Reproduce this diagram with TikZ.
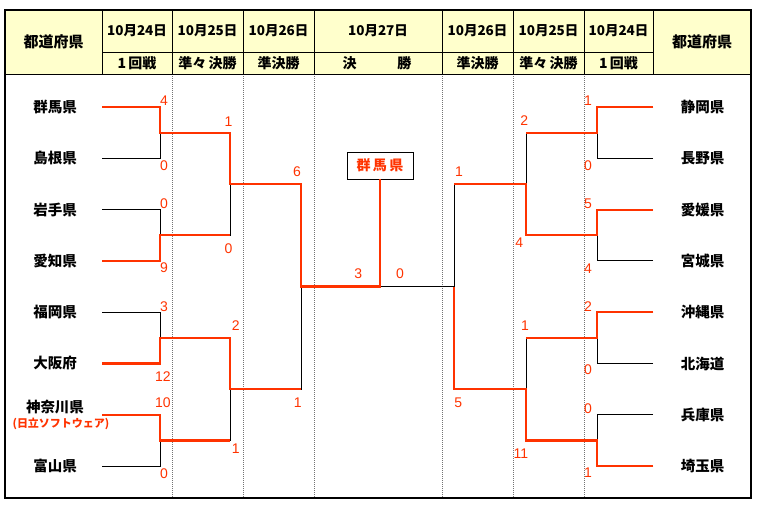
\documentclass[tikz,border=0pt]{standalone}
\usepackage{fontspec}
\setmainfont{Noto Sans CJK JP}
\newfontfamily\num{Liberation Sans}
\definecolor{wred}{RGB}{255,51,0}
\definecolor{hdrfill}{RGB}{255,255,204}
\begin{document}
\begin{tikzpicture}[x=1pt,y=-1pt,
  team/.style={font=\fontsize{14.5}{16}\selectfont\bfseries, inner sep=0pt},
  hdr/.style={font=\fontsize{14}{16}\selectfont\bfseries, inner sep=0pt},
  datehdr/.style={font=\fontsize{13.5}{16}\selectfont\bfseries, inner sep=0pt},
  score/.style={font=\num\fontsize{14}{15}\selectfont, text=wred, inner sep=0pt},
  win/.style={draw=wred, line width=2.2pt, line join=miter},
  lose/.style={draw=black, line width=0.9pt},
  sep/.style={draw=black!55, line width=0.9pt, dash pattern=on 1pt off 1pt}]
\useasboundingbox (0,0) rectangle (758,506);
% header background
\fill[hdrfill] (5,10) rectangle (751,74);
% dotted column separators
\foreach \x/\n in {172/s1,243/s2,314/s3,442/s4,513/s5,584/s6}{
  \coordinate (\n t) at (\x,74);
  \coordinate (\n b) at (\x,498);
  \draw[sep] (\n t) -- (\n b);
}
% header grid
\foreach \x/\n in {102/h1,172/h2,243/h3,314/h4,442/h5,513/h6,584/h7,653/h8}{
  \coordinate (\n t) at (\x,10);
  \coordinate (\n b) at (\x,74);
  \draw[black, line width=0.9pt] (\n t) -- (\n b);
}
\coordinate (hm1) at (102,52); \coordinate (hm2) at (653,52);
\coordinate (hb1) at (5,74); \coordinate (hb2) at (751,74);
\draw[black, line width=0.9pt] (hm1) -- (hm2);
\draw[black, line width=0.9pt] (hb1) -- (hb2);
\draw[black, line width=1.3pt] (5,10) rectangle (751,498);
% header texts
\node[hdr, font=\fontsize{15}{16}\selectfont\bfseries] (hl) at (53.5,42) {都道府県};
\node[hdr, font=\fontsize{15}{16}\selectfont\bfseries] (hr) at (702,42) {都道府県};
\node[datehdr] (d1) at (137,31) {10月24日};
\node[datehdr] (d2) at (207.5,31) {10月25日};
\node[datehdr] (d3) at (278.5,31) {10月26日};
\node[datehdr] (d4) at (378,31) {10月27日};
\node[datehdr] (d5) at (477.5,31) {10月26日};
\node[datehdr] (d6) at (548.5,31) {10月25日};
\node[datehdr] (d7) at (618.5,31) {10月24日};
\node[hdr] (r1h) at (137,63) {1\,回戦};
\node[hdr] (r2h) at (207.5,63) {準々\,決勝};
\node[hdr] (r3h) at (278.5,63) {準決勝};
\node[hdr] (r4h) at (377,63) {決\hspace{41pt}勝};
\node[hdr] (r5h) at (477.5,63) {準決勝};
\node[hdr] (r6h) at (548.5,63) {準々\,決勝};
\node[hdr] (r7h) at (618.5,63) {1\,回戦};
% team names
\node[team] (tl1) at (55,107) {群馬県};
\node[team] (tl2) at (55,158.3) {島根県};
\node[team] (tl3) at (55,209.6) {岩手県};
\node[team] (tl4) at (55,260.9) {愛知県};
\node[team] (tl5) at (55,312.2) {福岡県};
\node[team] (tl6) at (55,363.5) {大阪府};
\node[team] (tl7) at (55,406.7) {神奈川県};
\node[inner sep=0pt, text=wred, font=\fontsize{11}{12}\selectfont\bfseries] (tl7s) at (61,424) {(日立ソフトウェア)};
\node[team] (tl8) at (55,466.1) {富山県};
\node[team] (tr1) at (702.5,107) {静岡県};
\node[team] (tr2) at (702.5,158.3) {長野県};
\node[team] (tr3) at (702.5,209.6) {愛媛県};
\node[team] (tr4) at (702.5,260.9) {宮城県};
\node[team] (tr5) at (702.5,312.2) {沖縄県};
\node[team] (tr6) at (702.5,363.5) {北海道};
\node[team] (tr7) at (702.5,414.8) {兵庫県};
\node[team] (tr8) at (702.5,466.1) {埼玉県};
% champion box
\node[draw=black, line width=0.9pt, fill=white, minimum width=66pt, minimum height=27pt,
  inner sep=0pt, text=wred, font=\fontsize{14}{16}\selectfont\bfseries] (champ) at (380,165.5) {群\,馬\,県};
% bracket coordinates
\foreach \i/\y in {1/107,2/158.3,3/209.6,4/260.9,5/312.2,6/363.5,7/414.8,8/466.1}{
  \coordinate (l\i) at (102,\y);
  \coordinate (r\i) at (653,\y);
}
\foreach \i/\y in {1/132.65,2/235.25,3/337.85,4/440.45}{
  \coordinate (a\i) at (160,\y);
  \coordinate (A\i) at (597,\y);
}
\coordinate (b1) at (230,183.95); \coordinate (b2) at (230,389.15);
\coordinate (B1) at (526,183.95); \coordinate (B2) at (526,389.15);
\coordinate (c1) at (301,286.55); \coordinate (c2) at (454,286.55);
% black full bracket
\draw[lose] (l1) -| (a1); \draw[lose] (l2) -| (a1);
\draw[lose] (l3) -| (a2); \draw[lose] (l4) -| (a2);
\draw[lose] (l5) -| (a3); \draw[lose] (l6) -| (a3);
\draw[lose] (l7) -| (a4); \draw[lose] (l8) -| (a4);
\draw[lose] (a1) -| (b1); \draw[lose] (a2) -| (b1);
\draw[lose] (a3) -| (b2); \draw[lose] (a4) -| (b2);
\draw[lose] (b1) -| (c1); \draw[lose] (b2) -| (c1);
\draw[lose] (r1) -| (A1); \draw[lose] (r2) -| (A1);
\draw[lose] (r3) -| (A2); \draw[lose] (r4) -| (A2);
\draw[lose] (r5) -| (A3); \draw[lose] (r6) -| (A3);
\draw[lose] (r7) -| (A4); \draw[lose] (r8) -| (A4);
\draw[lose] (A1) -| (B1); \draw[lose] (A2) -| (B1);
\draw[lose] (A3) -| (B2); \draw[lose] (A4) -| (B2);
\draw[lose] (B1) -| (c2); \draw[lose] (B2) -| (c2);
\draw[lose] (c1) -- (c2);
% winners in red
\draw[win] (l1) -| (a1) -| (b1) -| (c1) -| (champ.south);
\draw[win] (l4) -| (a2) -- (a2 -| b1);
\draw[win] (l6) -| (a3) -| (b2) -- (b2 -| c1);
\draw[win] (l7) -| (a4) -- (a4 -| b2);
\draw[win] (r1) -| (A1) -- (A1 -| B1);
\draw[win] (r3) -| (A2) -| (B1) -- (B1 -| c2);
\draw[win] (r5) -| (A3) -- (A3 -| B2);
\draw[win] (r8) -| (A4) -| (B2) -| (c2);
% scores left
\node[score] (sl1) at (164,100.7) {4};
\node[score] (sl2) at (164,165.7) {0};
\node[score] (sl3) at (164,204) {0};
\node[score] (sl4) at (164,267.3) {9};
\node[score] (sl5) at (164,306.7) {3};
\node[score] (sl6) at (163,376.7) {12};
\node[score] (sl7) at (163,402.7) {10};
\node[score] (sl8) at (164,473.3) {0};
\node[score] (sl9) at (228.5,121.7) {1};
\node[score] (sl10) at (228.5,248.3) {0};
\node[score] (sl11) at (235.7,326) {2};
\node[score] (sl12) at (235.7,448.3) {1};
\node[score] (sl13) at (297,171.7) {6};
\node[score] (sl14) at (297.7,402.7) {1};
\node[score] (sf1) at (358.3,274) {3};
\node[score] (sf2) at (400,274) {0};
% scores right
\node[score] (sr1) at (588,100.7) {1};
\node[score] (sr2) at (588,165.7) {0};
\node[score] (sr3) at (588,204) {5};
\node[score] (sr4) at (588,268.3) {4};
\node[score] (sr5) at (588,306.7) {2};
\node[score] (sr6) at (588,370) {0};
\node[score] (sr7) at (588,408.3) {0};
\node[score] (sr8) at (588,472.7) {1};
\node[score] (sr9) at (524.3,120.7) {2};
\node[score] (sr10) at (519.3,242.7) {4};
\node[score] (sr11) at (525,325.7) {1};
\node[score] (sr12) at (521,453.3) {11};
\node[score] (sr13) at (459,171.7) {1};
\node[score] (sr14) at (458.3,402.7) {5};
\end{tikzpicture}
\end{document}
